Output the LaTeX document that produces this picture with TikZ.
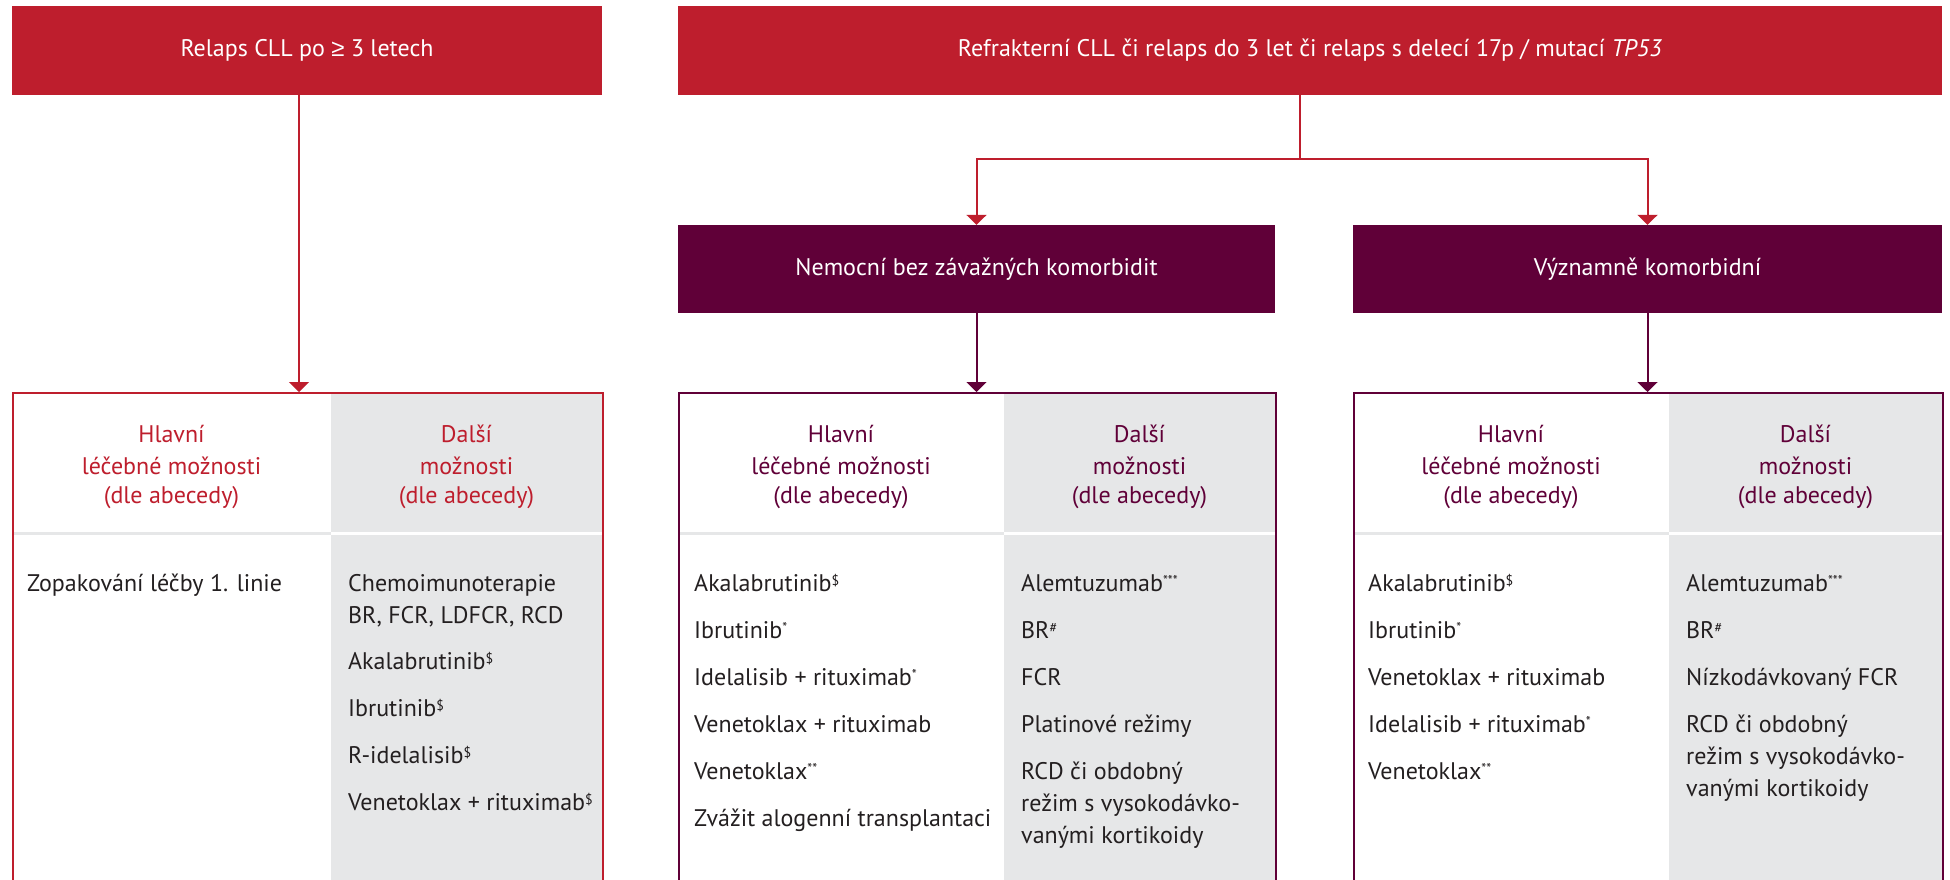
\documentclass[tikz,border=0pt]{standalone}
\usepackage{fontspec}
\setmainfont{PT Sans}
\newfontfamily\znakfont{Liberation Sans}
\usetikzlibrary{arrows.meta,positioning}

\definecolor{cllred}{RGB}{190,30,45}
\definecolor{cllpurple}{RGB}{96,0,56}
\definecolor{cllgrey}{RGB}{230,231,232}
\definecolor{clltext}{RGB}{35,31,32}

\newcommand{\pozn}[1]{\raisebox{6pt}{\fontsize{14}{14}\selectfont #1}}
\newcommand{\prvni}{\rule{0pt}{22pt}}

\begin{document}
\begin{tikzpicture}[x=1pt, y=-1pt,
    every node/.style={font=\fontsize{24}{32}\selectfont, text=clltext},
    redbox/.style={fill=cllred, text=white, inner sep=0pt},
    purplebox/.style={fill=cllpurple, text=white, inner sep=0pt},
    panel/.style={draw=#1, line width=2pt, inner sep=0pt, anchor=north west, minimum height=520pt},
    head/.style={align=center, anchor=north, inner sep=0pt, text=#1},
    list/.style={align=left, anchor=north west, inner sep=0pt},
    redarrow/.style={draw=cllred, line width=2pt, -{Triangle[width=20pt,length=10pt]}},
    purplearrow/.style={draw=cllpurple, line width=2pt, -{Triangle[width=20pt,length=10pt]}}]

  \useasboundingbox (0,0) rectangle (1950,879);
  \clip (0,0) rectangle (1950,879);

  % horni radek
  \node[redbox, minimum width=590pt, minimum height=89pt] at (307,50.5) (relaps) {Relaps CLL po {\znakfont ≥} 3 letech};
  \node[redbox, minimum width=1264pt, minimum height=89pt] at (1310,50.5) (refrakter) {Refrakterní CLL či relaps do 3 let či relaps s delecí 17p / mutací \textit{TP53}};

  \node[purplebox, minimum width=597pt, minimum height=88pt] at (976.5,269) (bezkom) {Nemocní bez závažných komorbidit};
  \node[purplebox, minimum width=589pt, minimum height=88pt] at (1647.5,269) (vyzkom) {Významně komorbidní};

  % sede sloupce
  \fill[cllgrey] (331,392) rectangle (602,890);
  \fill[cllgrey] (1004,392) rectangle (1275,890);
  \fill[cllgrey] (1669,392) rectangle (1942,890);

  % cara pod hlavickou
  \draw[line width=3pt, cllgrey] (12,533) -- (331,533);
  \draw[line width=3pt, white] (331,533) -- (602,533);
  \draw[line width=3pt, cllgrey] (678,533) -- (1004,533);
  \draw[line width=3pt, white] (1004,533) -- (1275,533);
  \draw[line width=3pt, cllgrey] (1353,533) -- (1669,533);
  \draw[line width=3pt, white] (1669,533) -- (1942,533);

  \node[panel=cllred, minimum width=590pt] at (12,392) (panelA) {};
  \node[panel=cllpurple, minimum width=597pt] at (678,392) (panelB) {};
  \node[panel=cllpurple, minimum width=589pt] at (1353,392) (panelC) {};

  % spojnice
  \coordinate (rozcesti) at (1300,159);
  \draw[redarrow] ([xshift=-8pt]relaps.south) -- ([xshift=-8pt]relaps.south |- panelA.north);
  \draw[draw=cllred, line width=2pt] ([xshift=-10pt]refrakter.south) -- (rozcesti);
  \draw[redarrow] (rozcesti) -| (bezkom.north);
  \draw[redarrow] (rozcesti) -| (vyzkom.north);
  \draw[purplearrow] (bezkom.south) -- (bezkom.south |- panelB.north);
  \draw[purplearrow] (vyzkom.south) -- (vyzkom.south |- panelC.north);

  % hlavicky
  \node[head=cllred] at (171.5,420) (hA1) {\prvni Hlavní\\léčebné možnosti\\[-3pt](dle abecedy)};
  \node[head=cllred] at (466.5,420) (hA2) {\prvni Další\\možnosti\\[-3pt](dle abecedy)};
  \node[head=cllpurple] at (841,420) (hB1) {\prvni Hlavní\\léčebné možnosti\\[-3pt](dle abecedy)};
  \node[head=cllpurple] at (1139.5,420) (hB2) {\prvni Další\\možnosti\\[-3pt](dle abecedy)};
  \node[head=cllpurple] at (1511,420) (hC1) {\prvni Hlavní\\léčebné možnosti\\[-3pt](dle abecedy)};
  \node[head=cllpurple] at (1805.5,420) (hC2) {\prvni Další\\možnosti\\[-3pt](dle abecedy)};

  % seznamy
  \node[list] at (27,569) (lA1) {\prvni Zopakování léčby 1. linie};
  \node[list] at (348,569) (lA2) {\prvni Chemoimunoterapie\\BR, FCR, LDFCR, RCD\\[14pt]Akalabrutinib\pozn{\$}\\[15pt]Ibrutinib\pozn{\$}\\[15pt]R-idelalisib\pozn{\$}\\[15pt]Venetoklax + rituximab\pozn{\$}};

  \node[list] at (694,569) (lB1) {\prvni Akalabrutinib\pozn{\$}\\[15pt]Ibrutinib\pozn{*}\\[15pt]Idelalisib + rituximab\pozn{*}\\[15pt]Venetoklax + rituximab\\[15pt]Venetoklax\pozn{**}\\[15pt]Zvážit alogenní transplantaci};
  \node[list] at (1021,569) (lB2) {\prvni Alemtuzumab\pozn{***}\\[15pt]BR\pozn{\#}\\[15pt]FCR\\[15pt]Platinové režimy\\[15pt]RCD či obdobný\\režim s vysokodávko-\\vanými kortikoidy};

  \node[list] at (1368,569) (lC1) {\prvni Akalabrutinib\pozn{\$}\\[15pt]Ibrutinib\pozn{*}\\[15pt]Venetoklax + rituximab\\[15pt]Idelalisib + rituximab\pozn{*}\\[15pt]Venetoklax\pozn{**}};
  \node[list] at (1686,569) (lC2) {\prvni Alemtuzumab\pozn{***}\\[15pt]BR\pozn{\#}\\[15pt]Nízkodávkovaný FCR\\[15pt]RCD či obdobný\\režim s vysokodávko-\\vanými kortikoidy};

\end{tikzpicture}
\end{document}
